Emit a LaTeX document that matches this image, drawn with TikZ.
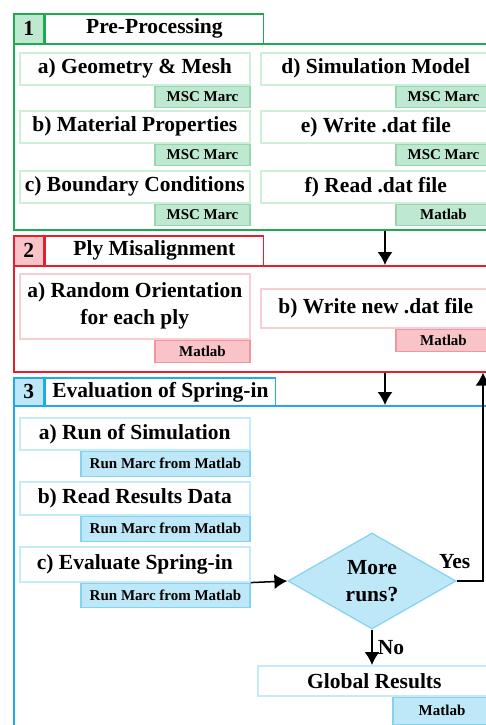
\documentclass[tikz,border=0pt]{standalone}
\usepackage{fontspec}
\setmainfont{Liberation Serif}
\usetikzlibrary{positioning,shapes.geometric,arrows.meta}
\definecolor{grnframe}{RGB}{30,170,80}
\definecolor{grnfill}{RGB}{190,232,208}
\definecolor{grnline}{RGB}{150,215,175}
\definecolor{grnbox}{RGB}{205,238,215}
\definecolor{redframe}{RGB}{232,30,45}
\definecolor{redfill}{RGB}{248,196,200}
\definecolor{redline}{RGB}{240,150,160}
\definecolor{redbox}{RGB}{250,205,210}
\definecolor{bluframe}{RGB}{30,170,235}
\definecolor{blufill}{RGB}{190,232,248}
\definecolor{bluline}{RGB}{130,210,240}
\definecolor{blubox}{RGB}{195,235,250}
\begin{document}
\begin{tikzpicture}[x=1pt,y=-1pt,
  big/.style={font=\bfseries\fontsize{21.5}{27}\selectfont},
  small/.style={font=\bfseries\fontsize{15}{18}\selectfont},
  frame/.style={draw=#1frame,line width=1.6pt,anchor=north west,inner sep=0},
  numcell/.style={frame=#1,fill=#1fill,minimum width=30,minimum height=30,big},
  titlecell/.style={frame=#1,fill=white,minimum height=30,big},
  task/.style={draw=#1box,line width=1.6pt,fill=white,anchor=north west,inner sep=0,minimum width=230,minimum height=32,align=center,big},
  tag/.style={draw=#1line,line width=1.2pt,fill=#1fill,anchor=north east,inner sep=0,minimum width=95,minimum height=21,small},
  link/.style={-{Latex[length=13pt,width=15pt]},line width=1.5pt}]
\useasboundingbox (0,0) rectangle (486,725);
\clip (0,0) rectangle (486,725);

% 1 pre-processing
\node[frame=grn,minimum width=477,minimum height=186] (f1) at (13,43) {};
\node[numcell=grn] (n1) at (13,13) {1};
\node[titlecell=grn,minimum width=218,right=0pt of n1] (t1) {Pre-Processing};
\node[task=grn] (g1) at (19,52) {a) Geometry \& Mesh};
\node[tag=grn] (g1t) at (g1.south east) {MSC Marc};
\node[task=grn] (g2) at (19,110) {b) Material Properties};
\node[tag=grn] (g2t) at (g2.south east) {MSC Marc};
\node[task=grn] (g3) at (19,170) {c) Boundary Conditions};
\node[tag=grn] (g3t) at (g3.south east) {MSC Marc};
\node[task=grn] (g4) at (260,52) {d) Simulation Model};
\node[tag=grn] (g4t) at (g4.south east) {MSC Marc};
\node[task=grn] (g5) at (260,110) {e) Write .dat file};
\node[tag=grn] (g5t) at (g5.south east) {MSC Marc};
\node[task=grn] (g6) at (260,170) {f) Read .dat file};
\node[tag=grn] (g6t) at (g6.south east) {Matlab};

% 2 ply misalignment
\node[frame=red,minimum width=477,minimum height=106] (f2) at (13,265) {};
\node[numcell=red] (n2) at (13,235) {2};
\node[titlecell=red,minimum width=218,right=0pt of n2] (t2) {Ply Misalignment};
\node[task=red,minimum height=65] (r1) at (19,273) {a) Random Orientation\\for each ply};
\node[tag=red,minimum height=22] (r1t) at (r1.south east) {Matlab};
\node[task=red,minimum height=39] (r2) at (260,288) {b) Write new .dat file};
\node[tag=red,minimum height=22] (r2t) at (r2.south east) {Matlab};

% 3 evaluation
\node[frame=blu,minimum width=477,minimum height=330] (f3) at (13,405) {};
\node[numcell=blu,minimum height=28] (n3) at (13,377) {3};
\node[titlecell=blu,minimum width=230,minimum height=28,right=0pt of n3] (t3) {Evaluation of Spring-in};
\node[task=blu] (b1) at (19,417) {a) Run of Simulation};
\node[tag=blu,minimum width=169,minimum height=25] (b1t) at (b1.south east) {Run Marc from Matlab};
\node[task=blu,minimum height=33] (b2) at (19,481) {b) Read Results Data};
\node[tag=blu,minimum width=169,minimum height=25] (b2t) at (b2.south east) {Run Marc from Matlab};
\node[task=blu,minimum height=35] (b3) at (19,546) {c) Evaluate Spring-in};
\node[tag=blu,minimum width=169,minimum height=24] (b3t) at (b3.south east) {Run Marc from Matlab};
\node[diamond,aspect=1.75,draw=bluline,line width=1.2pt,fill=blufill,inner sep=0,minimum width=168,minimum height=96,align=center,big] (dm) at (372,581) {More\\runs?};
\node[task=blu,minimum width=233,minimum height=30] (gr) at (257,665) {Global Results};
\node[tag=blu,minimum width=98,minimum height=27] (grt) at (gr.south east) {Matlab};

\coordinate (ax) at (385,0);
\coordinate (lp) at (483,0);
\draw[link] (f1.south -| ax) -- (f2.north -| ax);
\draw[link] (f2.south -| ax) -- (f3.north -| ax);
\draw[link] (b3.south east) -- (dm.west);
\draw[link] (dm.east) -| (f2.south -| lp) node[pos=0.5,above left,inner sep=12pt,big]{Yes};
\draw[link] (dm.south) -- (dm.south |- gr.north) node[midway,right,inner sep=5pt,big]{No};
\end{tikzpicture}
\end{document}
